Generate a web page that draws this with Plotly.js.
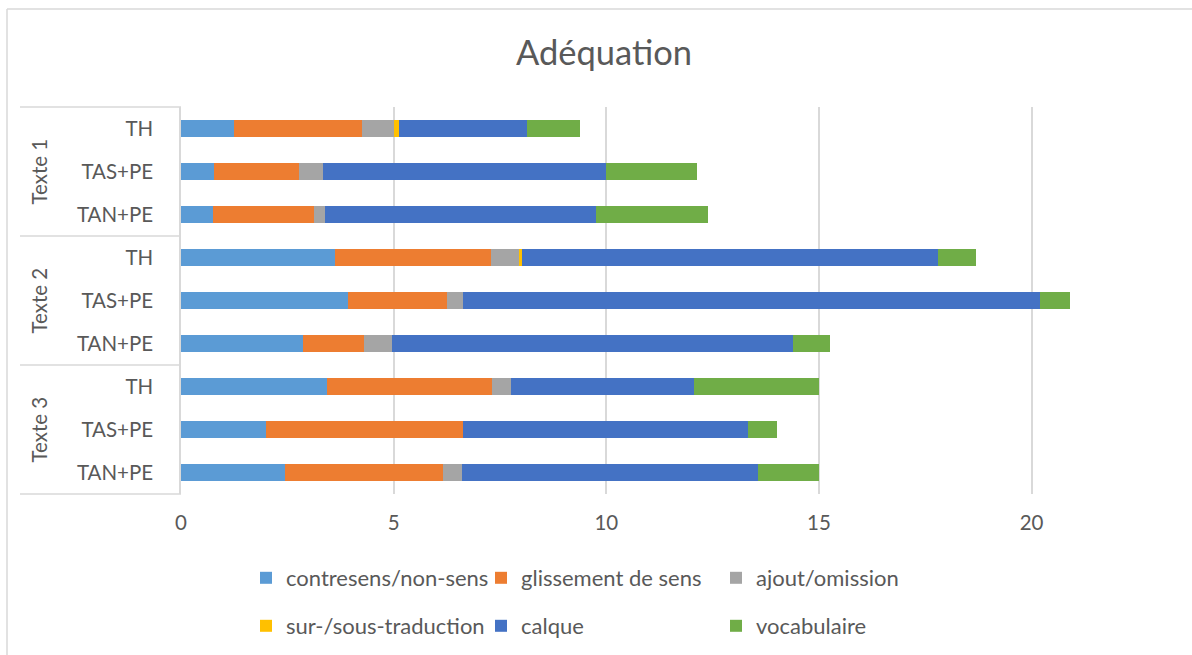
<!DOCTYPE html>
<html>
<head>
<meta charset="utf-8">
<script src="https://cdn.plot.ly/plotly-3.0.1.min.js"></script>
<style>
  html, body { margin: 0; padding: 0; background: #ffffff; }
  #chart { width: 1192px; height: 655px; }
</style>
</head>
<body>
<div id="chart"></div>
<script>
// ---- data ----
const groups = ["Texte 1", "Texte 1", "Texte 1", "Texte 2", "Texte 2", "Texte 2", "Texte 3", "Texte 3", "Texte 3"];
const subLabels = ["TH", "TAS+PE", "TAN+PE", "TH", "TAS+PE", "TAN+PE", "TH", "TAS+PE", "TAN+PE"];
const groupNames = ["Texte 1", "Texte 2", "Texte 3"];

const contresens = [1.25, 0.78, 0.75, 3.61, 3.93, 2.88, 3.43, 2.00, 2.45];
const glissement = [3.00, 2.00, 2.37, 3.67, 2.32, 1.43, 3.89, 4.63, 3.72];
const ajout      = [0.75, 0.56, 0.27, 0.67, 0.38, 0.64, 0.44, 0.00, 0.44];
const surSous    = [0.13, 0.00, 0.00, 0.06, 0.00, 0.00, 0.00, 0.00, 0.00];
const calque     = [3.00, 6.66, 6.37, 9.78, 13.57, 9.44, 4.31, 6.69, 6.96];
const vocabulaire= [1.25, 2.13, 2.62, 0.90, 0.70, 0.87, 2.93, 0.69, 1.43];

const seriesNames = ["contresens/non-sens", "glissement de sens", "ajout/omission",
                     "sur-/sous-traduction", "calque", "vocabulaire"];
const seriesValues = [contresens, glissement, ajout, surSous, calque, vocabulaire];
const seriesColors = ["#5B9BD5", "#ED7D31", "#A5A5A5", "#FFC000", "#4472C4", "#70AD47"];

// ---- layout geometry ----
const W = 1192, H = 655;
const M = {l: 181, r: 0, t: 107, b: 161};
const pw = W - M.l - M.r, ph = H - M.t - M.b;
const px2x = p => (p - M.l) / pw;
const py2y = p => (H - M.b - p) / ph;

const FONT = "Lato, 'Open Sans', sans-serif";
const TXT = "#595959";
const GRID = "#d9d9d9";

const keys = groups.map((g, i) => g + " | " + subLabels[i]);

const traces = seriesNames.map((name, k) => ({
  type: "bar",
  orientation: "h",
  name: name,
  x: seriesValues[k],
  y: keys,
  marker: {color: seriesColors[k], line: {width: 0}},
  legend: k < 3 ? "legend" : "legend2",
  hovertemplate: "%{y}: %{x}<extra>" + name + "</extra>"
}));

// separator lines and group labels of the category axis
const shapes = [];
const annotations = [];
const nPer = 3;
const rowH = ph / keys.length;
for (let g = 0; g <= groupNames.length; g++) {
  const py = M.t + g * nPer * rowH;
  shapes.push({type: "line", xref: "paper", yref: "paper",
    x0: px2x(20), x1: px2x(181), y0: py2y(py), y1: py2y(py),
    line: {color: GRID, width: 1.5}});
}
groupNames.forEach((g, i) => {
  const pyc = M.t + (i * nPer + nPer / 2) * rowH;
  annotations.push({text: g, xref: "paper", yref: "paper",
    x: px2x(38), y: py2y(pyc), textangle: -90, showarrow: false,
    xanchor: "center", yanchor: "middle",
    font: {family: FONT, size: 20.5, color: TXT}});
});
// chart border (left and top)
shapes.push({type: "line", xref: "paper", yref: "paper",
  x0: px2x(7), x1: px2x(7), y0: py2y(9), y1: py2y(H + 5), line: {color: GRID, width: 1.5}});
shapes.push({type: "line", xref: "paper", yref: "paper",
  x0: px2x(7), x1: px2x(W + 5), y0: py2y(9), y1: py2y(9), line: {color: GRID, width: 1.5}});

const legendCommon = {
  orientation: "h", xanchor: "left", yanchor: "middle",
  entrywidth: 190, entrywidthmode: "pixels", traceorder: "normal",
  font: {family: FONT, size: 22, color: TXT}, bgcolor: "rgba(0,0,0,0)"
};

const layout = {
  width: W, height: H,
  margin: M,
  paper_bgcolor: "#ffffff",
  plot_bgcolor: "#ffffff",
  barmode: "stack",
  bargap: 0.6,
  font: {family: FONT, size: 20, color: TXT},
  title: {text: "Adéquation", x: 604 / W, xanchor: "center", y: 1 - 53 / H, yanchor: "middle",
          font: {family: FONT, size: 34.5, color: TXT}},
  xaxis: {
    range: [0, pw / 42.53],
    tickmode: "array", tickvals: [0, 5, 10, 15, 20], ticktext: ["0", "5", "10", "15", "20"],
    showgrid: true, gridcolor: GRID, gridwidth: 1.5,
    zeroline: false, showline: false, ticks: "",
    ticklabelstandoff: 14,
    tickfont: {family: FONT, size: 20.5, color: TXT}
  },
  yaxis: {
    type: "category",
    autorange: "reversed",
    tickmode: "array", tickvals: keys, ticktext: subLabels,
    showgrid: false, zeroline: false,
    showline: true, linecolor: GRID, linewidth: 1.5,
    ticks: "", ticklabelstandoff: 22,
    tickfont: {family: FONT, size: 20.5, color: TXT}
  },
  showlegend: true,
  legend: Object.assign({}, legendCommon, {x: px2x(246), y: py2y(578)}),
  legend2: Object.assign({}, legendCommon, {x: px2x(246), y: py2y(626)}),
  shapes: shapes,
  annotations: annotations
};

Plotly.newPlot("chart", traces, layout, {displayModeBar: false, responsive: false});
</script>
</body>
</html>
